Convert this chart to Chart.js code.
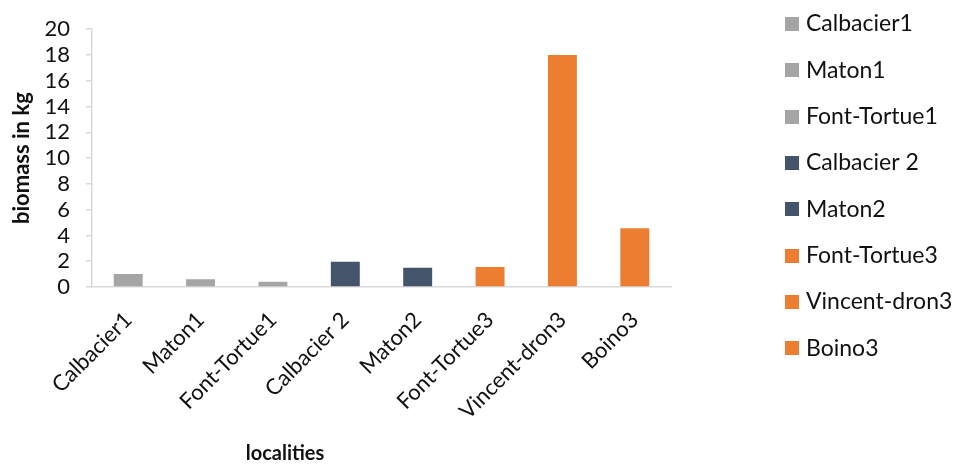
<!DOCTYPE html>
<html><head><meta charset="utf-8">
<script src="https://cdn.jsdelivr.net/npm/chart.js@4.4.0/dist/chart.umd.min.js"></script>
<style>html,body{margin:0;padding:0;background:#fff;}#wrap{position:relative;width:957px;height:465px;}</style>
</head><body><div id="wrap"><canvas id="c" width="957" height="465"></canvas></div>
<script>
const categories = ['Calbacier1','Maton1','Font-Tortue1','Calbacier 2','Maton2','Font-Tortue3','Vincent-dron3','Boino3'];
const biomass = [1.0, 0.6, 0.4, 1.95, 1.5, 1.55, 18.0, 4.55];
const siteGroup = [1, 1, 1, 2, 2, 3, 3, 3];
const yTickValues = [0, 2, 4, 6, 8, 10, 12, 14, 16, 18, 20];
const yTitle = 'biomass in kg';
const xTitle = 'localities';

const groupColors = {1: '#A5A5A5', 2: '#44546A', 3: '#ED7D31'};
const barColors = siteGroup.map(g => groupColors[g]);
const textColor = '#111111';
const axisColor = '#D9D9D9';

const legendPlugin = {
  id: 'sideLegend',
  afterDraw(chart) {
    const ctx = chart.ctx;
    ctx.save();
    ctx.font = '23px Lato';
    ctx.textBaseline = 'middle';
    ctx.textAlign = 'left';
    categories.forEach((name, i) => {
      const y = 24 + i * 46.3;
      ctx.fillStyle = barColors[i];
      ctx.fillRect(785, Math.round(y - 7), 14, 14);
      ctx.fillStyle = textColor;
      ctx.fillText(name, 806, y);
    });
    ctx.restore();
  }
};
const xTitlePlugin = {
  id: 'xTitle',
  afterDraw(chart) {
    const ctx = chart.ctx;
    ctx.save();
    ctx.font = 'bold 20px Lato';
    ctx.fillStyle = textColor;
    ctx.textAlign = 'center';
    ctx.textBaseline = 'middle';
    ctx.fillText(xTitle, 285, 454);
    ctx.restore();
  }
};

new Chart(document.getElementById('c'), {
  type: 'bar',
  data: {
    labels: categories,
    datasets: [{
      label: yTitle,
      data: biomass,
      backgroundColor: barColors,
      borderWidth: 0,
      barPercentage: 0.4,
      categoryPercentage: 1.0
    }]
  },
  options: {
    responsive: false,
    animation: false,
    devicePixelRatio: 1,
    layout: {padding: {top: 29, right: 286, bottom: 0, left: 0}},
    plugins: {legend: {display: false}, tooltip: {enabled: false}},
    scales: {
      x: {
        grid: {display: false, drawTicks: false},
        border: {display: true, color: axisColor, width: 1.5},
        ticks: {
          color: textColor, font: {family: 'Lato', size: 22},
          minRotation: 45, maxRotation: 45, padding: 20, autoSkip: false
        },
        afterFit(s) { s.height = 178; }
      },
      y: {
        min: 0, max: 20,
        afterBuildTicks(s) { s.ticks = yTickValues.map(v => ({value: v})); },
        grid: {display: true, drawOnChartArea: false, drawTicks: true, tickLength: 6, color: axisColor, lineWidth: 1.5},
        border: {display: true, color: axisColor, width: 1.5},
        ticks: {color: textColor, font: {family: 'Lato', size: 22}, padding: 16, autoSkip: false},
        title: {display: true, text: yTitle, color: textColor, font: {family: 'Lato', size: 22, weight: 'bold'}, padding: {top: 9, bottom: 0}},
        afterFit(s) { s.width = 92; }
      }
    }
  },
  plugins: [legendPlugin, xTitlePlugin]
});
</script></body></html>
